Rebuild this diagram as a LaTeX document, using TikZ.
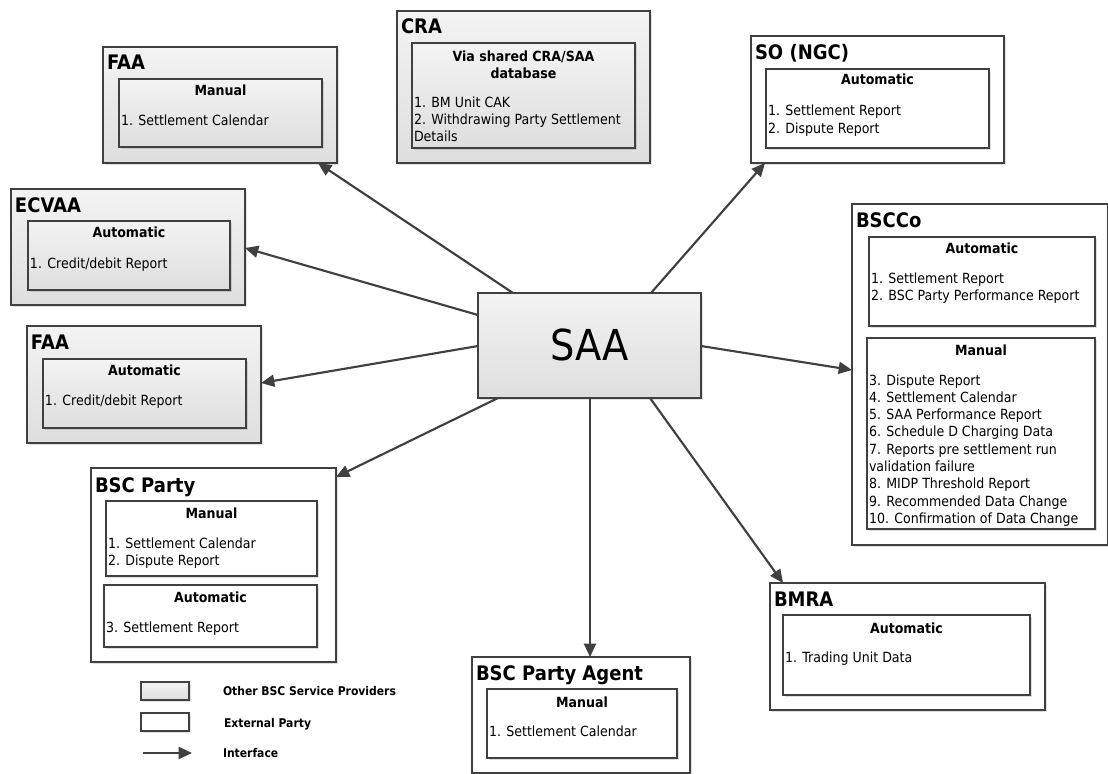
\documentclass[tikz,border=0pt]{standalone}
\usepackage{fontspec}
\setmainfont{DejaVu Sans}[FakeStretch=0.9]
\usetikzlibrary{arrows.meta,calc,shadows}
\definecolor{bd}{RGB}{64,64,64}
\definecolor{gtop}{RGB}{243,243,243}
\definecolor{gbot}{RGB}{222,222,222}
\newcommand\boxnode[6]{\node[#1, anchor=north west, minimum width={(#5-#3)*0.75pt}, minimum height={(#6-#4)*0.75pt}] (#2) at (#3,#4) {};}
\begin{document}
\begin{tikzpicture}[x=0.75pt,y=-0.75pt,
  every node/.style={inner sep=0pt, outer sep=0pt},
  boxbase/.style={draw=bd, line width=1.1pt, drop shadow={shadow xshift=1.6pt, shadow yshift=-1.6pt, fill=black, opacity=0.12}},
  gbox/.style={boxbase, top color=gtop, bottom color=gbot},
  wbox/.style={boxbase, fill=white},
  gin/.style={gbox, line width=1pt},
  win/.style={wbox, line width=1pt},
  ttl/.style={font=\fontsize{15}{18}\selectfont\bfseries, anchor=base west},
  sect/.style={font=\fontsize{10.5}{12}\selectfont\bfseries, anchor=base},
  item/.style={font=\fontsize{10.5}{12}\selectfont, anchor=base west},
  leg/.style={font=\fontsize{9}{11}\selectfont\bfseries, anchor=base west},
  iface/.style={draw=bd, line width=1.6pt, -{Triangle[length=10pt,width=9pt]}}
]
\useasboundingbox (0,0) rectangle (1108,774);

% ---------- FAA (top) ----------
\boxnode{gbox}{faa1}{103}{47}{337}{163}
\boxnode{gin}{faa1i}{119}{79}{322}{147}
\node[ttl] (faa1t) at (107,70) {FAA};
\node[sect] (faa1s) at (220.5,96) {Manual};
\node[item] (faa1a) at (121,126) {1. Settlement Calendar};

% ---------- ECVAA ----------
\boxnode{gbox}{ecvaa}{11}{189}{245}{305}
\boxnode{gin}{ecvaai}{28}{221}{230}{290}
\node[ttl] (ecvaat) at (15,213) {ECVAA};
\node[sect] (ecvaas) at (129,238) {Automatic};
\node[item] (ecvaaa) at (30,268) {1. Credit/debit Report};

% ---------- FAA (lower) ----------
\boxnode{gbox}{faa2}{27}{326}{261}{443}
\boxnode{gin}{faa2i}{43}{359}{246}{428}
\node[ttl] (faa2t) at (31,349) {FAA};
\node[sect] (faa2s) at (144.5,375) {Automatic};
\node[item] (faa2a) at (45,405) {1. Credit/debit Report};

% ---------- CRA ----------
\boxnode{gbox}{cra}{397}{11}{650}{163}
\boxnode{gin}{crai}{412}{43}{635}{148}
\node[ttl] (crat) at (401,34) {CRA};
\node[sect] (cras1) at (523.5,62) {Via shared CRA/SAA};
\node[sect] (cras2) at (523.5,78.5) {database};
\node[item] (craa) at (414,107.5) {1. BM Unit CAK};
\node[item] (crab) at (414,125) {2. Withdrawing Party Settlement};
\node[item] (crac) at (414,142) {Details};

% ---------- SO (NGC) ----------
\boxnode{wbox}{so}{751}{36}{1004}{163}
\boxnode{win}{soi}{766}{69}{989}{148}
\node[ttl] (sot) at (755,60) {SO (NGC)};
\node[sect] (sos) at (877.5,85) {Automatic};
\node[item] (soa) at (768,116) {1. Settlement Report};
\node[item] (sob) at (768,133) {2. Dispute Report};

% ---------- BSCCo ----------
\boxnode{wbox}{bscco}{852}{204}{1107.3}{545}
\boxnode{win}{bsccoi1}{869}{237}{1095}{326}
\boxnode{win}{bsccoi2}{867}{338}{1095}{529}
\node[ttl] (bsccot) at (856,227) {BSCCo};
\node[sect] (bsccos1) at (982,253) {Automatic};
\node[item] (bsccoa1) at (871,283) {1. Settlement Report};
\node[item] (bsccoa2) at (871,300.5) {2. BSC Party Performance Report};
\node[sect] (bsccos2) at (981,355) {Manual};
\foreach \t [count=\i from 0] in {3. Dispute Report, 4. Settlement Calendar, 5. SAA Performance Report, 6. Schedule D Charging Data, 7. Reports pre settlement run, validation failure, 8. MIDP Threshold Report, 9. Recommended Data Change, 10. Confirmation of Data Change}
  \node[item] (bsccom\i) at (869,{385+17.3*\i}) {\t};

% ---------- BSC Party ----------
\boxnode{wbox}{bscp}{91}{468}{336}{662}
\boxnode{win}{bscpi1}{106}{501}{317}{576}
\boxnode{win}{bscpi2}{104}{585}{317}{647}
\node[ttl] (bscpt) at (95,492) {BSC Party};
\node[sect] (bscps1) at (211.5,518) {Manual};
\node[item] (bscpa) at (108,548) {1. Settlement Calendar};
\node[item] (bscpb) at (108,565) {2. Dispute Report};
\node[sect] (bscps2) at (210.5,602) {Automatic};
\node[item] (bscpc) at (106,632) {3. Settlement Report};

% ---------- BSC Party Agent ----------
\boxnode{wbox}{agent}{472}{657}{690}{773}
\boxnode{win}{agenti}{487}{689}{677}{758}
\node[ttl] (agentt) at (476,680) {BSC Party Agent};
\node[sect] (agents) at (582,707) {Manual};
\node[item] (agenta) at (489,736) {1. Settlement Calendar};

% ---------- BMRA ----------
\boxnode{wbox}{bmra}{770}{583}{1045}{710}
\boxnode{win}{bmrai}{783}{615}{1030}{695}
\node[ttl] (bmrat) at (774,606) {BMRA};
\node[sect] (bmras) at (906.5,633) {Automatic};
\node[item] (bmraa) at (785,662) {1. Trading Unit Data};

% ---------- SAA ----------
\boxnode{gbox}{saa}{478}{293}{701}{398}
\node[font=\fontsize{32}{36}\selectfont, anchor=base] (saat) at (589.5,360) {SAA};

% ---------- Legend ----------
\boxnode{gbox}{leg1}{141}{682}{189}{700}
\boxnode{wbox}{leg2}{141}{713}{189}{731}
\coordinate (la) at (143,753);
\coordinate (lb) at (192,753);
\draw[iface] (la) -- (lb);
\node[leg] (legt1) at (223,695.5) {Other BSC Service Providers};
\node[leg] (legt2) at (224,727.5) {External Party};
\node[leg] (legt3) at (223,757.5) {Interface};

% ---------- Interfaces ----------
\draw[iface] ($(saa.north west)+(35,0)$) -- ($(faa1.south west)+(215,0)$);
\draw[iface] ($(saa.north west)+(0,22)$) -- ($(ecvaa.north east)+(0,59)$);
\draw[iface] ($(saa.north west)+(0,53)$) -- ($(faa2.north east)+(0,57)$);
\draw[iface] ($(saa.south west)+(20,0)$) -- ($(bscp.north east)+(0,9)$);
\draw[iface] ($(saa.south west)+(112,0)$) -- ($(agent.north west)+(118,0)$);
\draw[iface] ($(saa.south west)+(172,0)$) -- ($(bmra.north west)+(13,0)$);
\draw[iface] ($(saa.north east)+(0,53)$) -- ($(bscco.north west)+(0,166)$);
\draw[iface] ($(saa.north west)+(173,0)$) -- ($(so.south west)+(14,0)$);
\end{tikzpicture}
\end{document}
